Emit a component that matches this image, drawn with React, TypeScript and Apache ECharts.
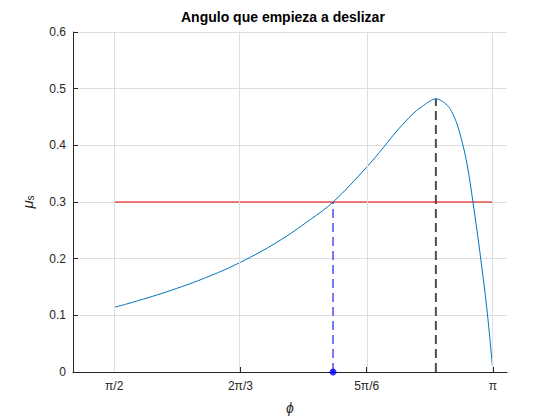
import React, { useEffect, useRef } from "react";
import * as echarts from "echarts";

const TITLE = "Angulo que empieza a deslizar";

// curve: angle phi (rad) vs mu_s
const PHI = [
  1.5708, 1.6913, 1.8302, 1.9686, 2.0945, 2.2458, 2.3842, 2.4785, 2.6169, 2.6888,
  2.7445, 2.8135, 2.8551, 2.88, 2.905, 2.9245, 2.9523, 2.966, 2.98, 2.9939,
  3.0146, 3.0354, 3.0588, 3.0907, 3.1186, 3.1416,
];
const MU = [
  0.114, 0.1285, 0.1475, 0.1696, 0.1936, 0.229, 0.269, 0.3, 0.361, 0.397,
  0.426, 0.457, 0.4707, 0.478, 0.482, 0.4795, 0.4705, 0.463, 0.451, 0.436,
  0.405, 0.364, 0.3, 0.201, 0.103, 0,
];

const MU_STATIC = 0.3;
const PHI_CROSS = 2.4785;
const PHI_MAX = 2.905;
const MU_MAX = 0.482;
const RED_RANGE = [Math.PI / 2, Math.PI];

const X_TICK_VALUES = [Math.PI / 2, (2 * Math.PI) / 3, (5 * Math.PI) / 6, Math.PI];
const X_TICK_LABELS = ["π/2", "2π/3", "5π/6", "π"];
const X_MIN = 1.4;
const X_MAX = 3.2;
const Y_MIN = 0;
const Y_MAX = 0.6;
const Y_STEP = 0.1;

const FONT = 'Arial, "Liberation Sans", Helvetica, sans-serif';
const AXIS_COLOR = "#262626";
const GRID_COLOR = "#dedede";

export default function App() {
  const ref = useRef<HTMLDivElement>(null);
  useEffect(() => {
    if (!ref.current) return;
    const chart = echarts.init(ref.current, null, { renderer: "svg" });
    const curve = PHI.map((p, i) => [p, MU[i]]);
    chart.setOption({
      animation: false,
      backgroundColor: "#ffffff",
      title: {
        text: TITLE,
        left: 181,
        top: 10,
        padding: 0,
        textStyle: { fontFamily: FONT, fontSize: 14, fontWeight: "bold", color: "#000" },
      },
      grid: { left: 73, right: 53, top: 32, bottom: 47, containLabel: false },
      xAxis: {
        type: "value",
        min: X_MIN,
        max: X_MAX,
        name: "ϕ",
        nameLocation: "middle",
        nameGap: 29,
        nameTextStyle: { fontFamily: FONT, fontSize: 14, fontStyle: "italic", color: AXIS_COLOR },
        axisLine: { show: true, onZero: false, lineStyle: { color: AXIS_COLOR, width: 1 } },
        axisTick: {
          show: true,
          inside: true,
          length: 5,
          customValues: X_TICK_VALUES,
          lineStyle: { color: AXIS_COLOR },
        },
        axisLabel: {
          customValues: X_TICK_VALUES,
          margin: 8,
          fontFamily: FONT,
          fontSize: 12,
          color: AXIS_COLOR,
          formatter: (v: number) => {
            const i = X_TICK_VALUES.findIndex((t) => Math.abs(t - v) < 1e-6);
            return i >= 0 ? X_TICK_LABELS[i] : "";
          },
        },
        splitLine: { show: false },
      },
      yAxis: {
        type: "value",
        min: Y_MIN,
        max: Y_MAX,
        interval: Y_STEP,
        name: "{mu|μ}{s|s}",
        nameLocation: "middle",
        nameRotate: 90,
        nameGap: 38,
        nameTextStyle: {
          color: AXIS_COLOR,
          rich: {
            mu: { fontFamily: FONT, fontSize: 15, fontStyle: "italic", color: AXIS_COLOR, verticalAlign: "bottom" },
            s: { fontFamily: FONT, fontSize: 10, color: AXIS_COLOR, verticalAlign: "bottom", padding: [6, 0, 0, 0] },
          },
        },
        axisLine: { show: true, lineStyle: { color: AXIS_COLOR, width: 1 } },
        axisTick: { show: true, inside: true, length: 5, lineStyle: { color: AXIS_COLOR } },
        axisLabel: {
          margin: 7,
          fontFamily: FONT,
          fontSize: 12,
          color: AXIS_COLOR,
          formatter: (v: number) => String(Math.round(v * 10) / 10),
        },
        splitLine: { show: true, lineStyle: { color: GRID_COLOR, width: 1 } },
      },
      series: [
        {
          type: "line",
          data: [],
          silent: true,
          markLine: {
            silent: true,
            symbol: "none",
            label: { show: false },
            lineStyle: { color: GRID_COLOR, type: "solid", width: 1 },
            data: X_TICK_VALUES.map((v) => ({ xAxis: v })),
          },
        },
        {
          type: "line",
          data: RED_RANGE.map((p) => [p, MU_STATIC]),
          showSymbol: false,
          lineStyle: { color: "#e00000", width: 1 },
          z: 3,
        },
        {
          type: "line",
          data: [
            [PHI_CROSS, 0],
            [PHI_CROSS, MU_STATIC],
          ],
          showSymbol: false,
          lineStyle: { color: "#7878f4", width: 2, type: [9, 5] },
          z: 2,
        },
        {
          type: "line",
          data: [
            [PHI_MAX, 0],
            [PHI_MAX, MU_MAX],
          ],
          showSymbol: false,
          lineStyle: { color: "#4d4d4d", width: 2, type: [9, 5] },
          z: 2,
        },
        {
          type: "line",
          data: curve,
          showSymbol: false,
          smooth: 0.4,
          lineStyle: { color: "#0072BD", width: 1 },
          z: 4,
        },
        {
          type: "scatter",
          data: [[PHI_CROSS, 0]],
          symbolSize: 7,
          itemStyle: { color: "#0000ff" },
          clip: false,
          z: 5,
        },
      ],
    });
    return () => chart.dispose();
  }, []);
  return (
    <div
      ref={ref}
      style={{ position: "absolute", left: 0, top: 0, width: 560, height: 420, background: "#fff" }}
    />
  );
}
